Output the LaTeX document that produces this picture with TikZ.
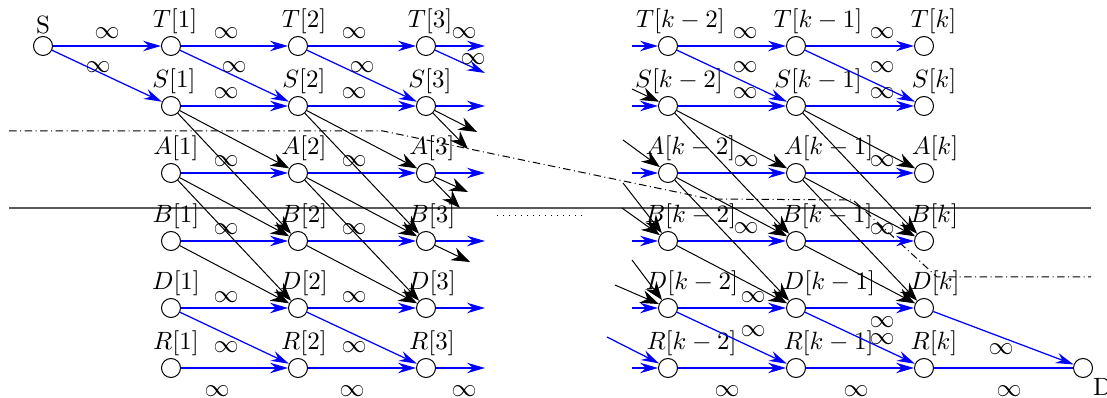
\documentclass[tikz,border=0pt]{standalone}
\usetikzlibrary{arrows.meta,calc}
\begin{document}
\begin{tikzpicture}[x=0.4pt,y=-0.4pt,
        vtx/.style={draw,circle,fill=white,minimum size=7.6pt,inner sep=0pt},
        every label/.style={inner sep=0.5pt},
        blarrow/.style={blue,line width=0.5pt,-{Stealth[length=7.2pt,width=4.2pt,inset=2.4pt]}},
        bkarrow/.style={black,line width=0.4pt,-{Stealth[length=7.4pt,width=5.4pt,inset=2.4pt]}}]
        \useasboundingbox (0,0) rectangle (1107,398);

        % Cut lines
        \draw[line width=0.7pt,black!65] (9,208) -- (1091,208);
        \draw[line width=0.4pt,dash pattern=on 3pt off 1.4pt on 0.4pt off 1.4pt]
            (9,131) -- (383,131) -- (710,199) -- (853,200) -- (937,277) -- (1091,277);
        \draw[dotted] (497,216) -- (587,216);

        % Source
        \node[vtx,label=above:S] (src) at (43,46) {};

        % Columns 1, 2, 3
        \node[vtx,label={[xshift=1.6pt]above:$T[1]$}] (t1) at (171,46) {};
        \node[vtx,label={[xshift=1.2pt]above:$S[1]$}] (s1) at (171,106) {};
        \node[vtx,label={[xshift=2pt]above:$A[1]$}] (a1) at (171,173) {};
        \node[vtx,label={[xshift=2pt]above:$B[1]$}] (b1) at (171,241) {};
        \node[vtx,label={[xshift=2pt]above:$D[1]$}] (d1) at (171,308) {};
        \node[vtx,label={[xshift=2pt]above:$R[1]$}] (r1) at (171,368) {};

        \node[vtx,label={[xshift=2.4pt]above:$T[2]$}] (t2) at (298,46) {};
        \node[vtx,label={[xshift=2.4pt]above:$S[2]$}] (s2) at (298,106) {};
        \node[vtx,label={[xshift=2.4pt]above:$A[2]$}] (a2) at (298,173) {};
        \node[vtx,label={[xshift=2.4pt]above:$B[2]$}] (b2) at (298,241) {};
        \node[vtx,label={[xshift=2.4pt]above:$D[2]$}] (d2) at (298,308) {};
        \node[vtx,label={[xshift=2.4pt]above:$R[2]$}] (r2) at (298,368) {};

        \node[vtx,label={[xshift=1.6pt]above:$T[3]$}] (t3) at (426,46) {};
        \node[vtx,label={[xshift=1.6pt]above:$S[3]$}] (s3) at (426,106) {};
        \node[vtx,label={[xshift=2.4pt]above:$A[3]$}] (a3) at (426,173) {};
        \node[vtx,label={[xshift=2.4pt]above:$B[3]$}] (b3) at (426,241) {};
        \node[vtx,label={[xshift=2.4pt]above:$D[3]$}] (d3) at (426,308) {};
        \node[vtx,label={[xshift=2.4pt]above:$R[3]$}] (r3) at (426,368) {};

        % Columns k-2, k-1, k
        \node[vtx,label={[xshift=5pt]above:$T[k-2]$}] (tm2) at (668,46) {};
        \node[vtx,label={[xshift=4.4pt]above:$S[k-2]$}] (sm2) at (668,106) {};
        \node[vtx,label={[xshift=9pt]above:$A[k-2]$}] (am2) at (668,173) {};
        \node[vtx,label={[xshift=9pt]above:$B[k-2]$}] (bm2) at (668,241) {};
        \node[vtx,label={[xshift=9.6pt]above:$D[k-2]$}] (dm2) at (668,308) {};
        \node[vtx,label={[xshift=9.4pt]above:$R[k-2]$}] (rm2) at (668,368) {};

        \node[vtx,label={[xshift=8.8pt]above:$T[k-1]$}] (tm1) at (796,46) {};
        \node[vtx,label={[xshift=8.8pt]above:$S[k-1]$}] (sm1) at (796,106) {};
        \node[vtx,label={[xshift=13pt]above:$A[k-1]$}] (am1) at (796,173) {};
        \node[vtx,label={[xshift=12.4pt]above:$B[k-1]$}] (bm1) at (796,241) {};
        \node[vtx,label={[xshift=13.2pt]above:$D[k-1]$}] (dm1) at (796,308) {};
        \node[vtx,label={[xshift=13pt]above:$R[k-1]$}] (rm1) at (796,368) {};

        \node[vtx,label={[xshift=3.8pt]above:$T[k]$}] (tk) at (924,46) {};
        \node[vtx,label={[xshift=4pt]above:$S[k]$}] (sk) at (924,106) {};
        \node[vtx,label={[xshift=4.4pt]above:$A[k]$}] (ak) at (924,173) {};
        \node[vtx,label={[xshift=4pt]above:$B[k]$}] (bk) at (924,241) {};
        \node[vtx,label={[xshift=4.4pt]above:$D[k]$}] (dk) at (924,308) {};
        \node[vtx,label={[xshift=4pt]above:$R[k]$}] (rk) at (924,368) {};

        % Sink
        \node[vtx,label={[inner sep=1pt]below right:D}] (snk) at (1083,368) {};

        % Free ends after column 3
        \coordinate (tout) at (485,46);
        \coordinate (txout) at (485,73);
        \coordinate (sout) at (485,106);
        \coordinate (sxout1) at (477,132);
        \coordinate (sxout2) at (468,149);
        \coordinate (aout) at (485,173);
        \coordinate (axout1) at (468,192);
        \coordinate (axout2) at (460,208);
        \coordinate (bout) at (485,241);
        \coordinate (bxout) at (470,262);
        \coordinate (dout) at (485,308);
        \coordinate (rout) at (485,368);

        % Free ends before column k-2
        \coordinate (tin) at (632,46);
        \coordinate (sin) at (632,106);
        \coordinate (sxin) at (632,89);
        \coordinate (ain) at (632,173);
        \coordinate (axin) at (623,140);
        \coordinate (bin) at (632,241);
        \coordinate (bxin1) at (623,183);
        \coordinate (bxin2) at (622,208);
        \coordinate (din) at (632,308);
        \coordinate (dxin1) at (632,260);
        \coordinate (dxin2) at (615,285);
        \coordinate (rin) at (632,368);
        \coordinate (rxin) at (607,337);

        % Blue arcs
        \draw[blarrow] (src) -- (t1);
        \draw[blarrow] (src) -- (s1);
        \draw[blarrow] (t1) -- (t2);
        \draw[blarrow] (t2) -- (t3);
        \draw[blarrow] (t1) -- (s2);
        \draw[blarrow] (t2) -- (s3);
        \draw[blarrow] (s1) -- (s2);
        \draw[blarrow] (s2) -- (s3);
        \draw[blarrow] (a1) -- (a2);
        \draw[blarrow] (a2) -- (a3);
        \draw[blarrow] (b1) -- (b2);
        \draw[blarrow] (b2) -- (b3);
        \draw[blarrow] (d1) -- (d2);
        \draw[blarrow] (d2) -- (d3);
        \draw[blarrow] (d1) -- (r2);
        \draw[blarrow] (d2) -- (r3);
        \draw[blarrow] (r1) -- (r2);
        \draw[blarrow] (r2) -- (r3);
        \draw[blarrow] (t3) -- (tout);
        \draw[blarrow] (t3) -- (txout);
        \draw[blarrow] (s3) -- (sout);
        \draw[blarrow] (a3) -- (aout);
        \draw[blarrow] (b3) -- (bout);
        \draw[blarrow] (d3) -- (dout);
        \draw[blarrow] (r3) -- (rout);

        \draw[blarrow] (tin) -- (tm2);
        \draw[blarrow] (sin) -- (sm2);
        \draw[blarrow] (ain) -- (am2);
        \draw[blarrow] (bin) -- (bm2);
        \draw[blarrow] (din) -- (dm2);
        \draw[blarrow] (rin) -- (rm2);
        \draw[blarrow] (rxin) -- (rm2);
        \draw[blarrow] (tm2) -- (tm1);
        \draw[blarrow] (tm1) -- (tk);
        \draw[blarrow] (tm2) -- (sm1);
        \draw[blarrow] (tm1) -- (sk);
        \draw[blarrow] (sm2) -- (sm1);
        \draw[blarrow] (sm1) -- (sk);
        \draw[blarrow] (am2) -- (am1);
        \draw[blarrow] (am1) -- (ak);
        \draw[blarrow] (bm2) -- (bm1);
        \draw[blarrow] (bm1) -- (bk);
        \draw[blarrow] (dm2) -- (dm1);
        \draw[blarrow] (dm1) -- (dk);
        \draw[blarrow] (dm2) -- (rm1);
        \draw[blarrow] (dm1) -- (rk);
        \draw[blarrow] (rm2) -- (rm1);
        \draw[blarrow] (rm1) -- (rk);
        \draw[blarrow] (dk) -- (snk);
        \draw[blue,line width=0.5pt] (rk) -- (snk);

        % Black arcs
        \draw[bkarrow] (s1) -- (a2);
        \draw[bkarrow] (s1) -- (b2);
        \draw[bkarrow] (a1) -- (b2);
        \draw[bkarrow] (a1) -- (d2);
        \draw[bkarrow] (b1) -- (d2);
        \draw[bkarrow] (s2) -- (a3);
        \draw[bkarrow] (s2) -- (b3);
        \draw[bkarrow] (a2) -- (b3);
        \draw[bkarrow] (a2) -- (d3);
        \draw[bkarrow] (b2) -- (d3);
        \draw[bkarrow] (s3) -- (sxout1);
        \draw[bkarrow] (s3) -- (sxout2);
        \draw[bkarrow] (a3) -- (axout1);
        \draw[bkarrow] (a3) -- (axout2);
        \draw[bkarrow] (b3) -- (bxout);

        \draw[bkarrow] (sxin) -- (sm2);
        \draw[bkarrow] (axin) -- (am2);
        \draw[bkarrow] (bxin1) -- (bm2);
        \draw[bkarrow] (bxin2) -- (bm2);
        \draw[bkarrow] (dxin1) -- (dm2);
        \draw[bkarrow] (dxin2) -- (dm2);
        \draw[bkarrow] (sm2) -- (am1);
        \draw[bkarrow] (sm2) -- (bm1);
        \draw[bkarrow] (am2) -- (bm1);
        \draw[bkarrow] (am2) -- (dm1);
        \draw[bkarrow] (bm2) -- (dm1);
        \draw[bkarrow] (sm1) -- (ak);
        \draw[bkarrow] (sm1) -- (bk);
        \draw[bkarrow] (am1) -- (bk);
        \draw[bkarrow] (am1) -- (dk);
        \draw[bkarrow] (bm1) -- (dk);

        % Capacities
        \foreach \p [count=\i] in {(107,33),(98,67),(226,33),(234,67),(226,93),
                (354,33),(362,67),(354,93),(464,33),(473,59),
                (226,161),(354,161),(226,229),(354,229),(226,297),(354,297),
                (226,347),(354,347),(217,391),(352,391),(464,391),
                (745,33),(882,33),(745,67),(882,67),(745,93),(882,93),
                (746,161),(882,161),(746,228),(882,229),(753,297),(753,331),
                (882,322),(882,339),(1001,349),(727,391),(856,391),(1009,391)}
            \node[inner sep=0pt] (inf\i) at \p {$\infty$};
    \end{tikzpicture}
\end{document}
